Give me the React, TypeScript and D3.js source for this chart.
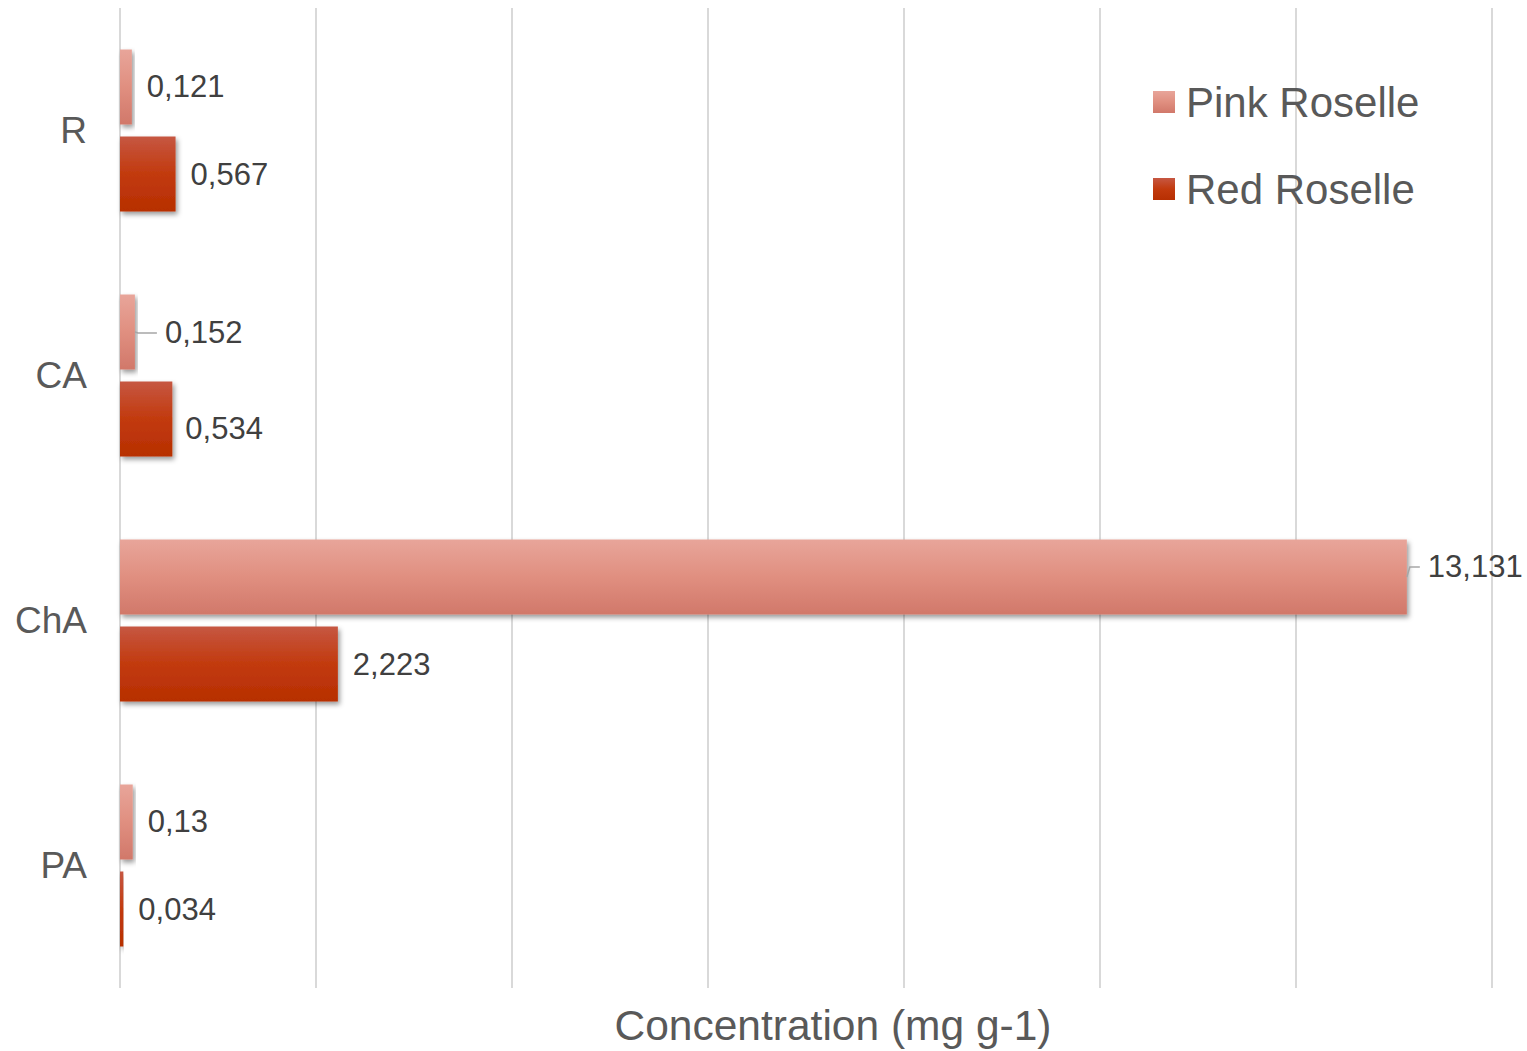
import React from "react";
import * as d3 from "d3";

// Compounds (categories) and concentrations per roselle variety
const categories = ["R", "CA", "ChA", "PA"];
const seriesNames = ["Pink Roselle", "Red Roselle"];
const pinkValues = [0.121, 0.152, 13.131, 0.13];
const redValues = [0.567, 0.534, 2.223, 0.034];
const pinkLabels = ["0,121", "0,152", "13,131", "0,13"];
const redLabels = ["0,567", "0,534", "2,223", "0,034"];
const xTicks = [0, 2, 4, 6, 8, 10, 12, 14];
const axisTitle = "Concentration (mg g-1)";

// Manual nudges for a few data labels (dx, dy, leader line)
const labelNudges: Record<string, { dx: number; dy: number; leader?: boolean }> = {
  "Pink Roselle|CA": { dx: 30, dy: 1, leader: true },
  "Red Roselle|CA": { dx: 13, dy: 9 },
  "Pink Roselle|ChA": { dx: 21, dy: -10, leader: true },
};

const W = 1527;
const H = 1051;
const FONT = "'Liberation Sans', Arial, Helvetica, sans-serif";

export default function App() {
  const x = d3.scaleLinear().domain([0, 14]).range([120, 1492]);
  const y = d3.scaleBand<string>().domain(categories).range([8, 988]).padding(0);
  const inner = d3
    .scaleBand<string>()
    .domain(seriesNames)
    .range([0, y.bandwidth()])
    .paddingInner(0.138)
    .paddingOuter(0.477);

  const seriesData = [
    { name: seriesNames[0], values: pinkValues, labels: pinkLabels, grad: "url(#gPink)" },
    { name: seriesNames[1], values: redValues, labels: redLabels, grad: "url(#gRed)" },
  ];

  return (
    <svg
      width={W}
      height={H}
      style={{ position: "absolute", left: 0, top: 0, background: "#fff" }}
      fontFamily={FONT}
    >
      <defs>
        <linearGradient id="gPink" x1="0" y1="0" x2="0" y2="1">
          <stop offset="0" stopColor="#e8a59a" />
          <stop offset="0.5" stopColor="#e08f80" />
          <stop offset="1" stopColor="#d1786a" />
        </linearGradient>
        <linearGradient id="gRed" x1="0" y1="0" x2="0" y2="1">
          <stop offset="0" stopColor="#c65742" />
          <stop offset="0.5" stopColor="#c23a0e" />
          <stop offset="1" stopColor="#b72f02" />
        </linearGradient>
        <filter id="shadow" x="-10%" y="-20%" width="130%" height="160%">
          <feDropShadow dx="2" dy="3" stdDeviation="2.5" floodColor="#000" floodOpacity="0.4" />
        </filter>
      </defs>

      {/* vertical gridlines */}
      {xTicks.map((t) => (
        <line
          key={t}
          x1={x(t)}
          x2={x(t)}
          y1={8}
          y2={988}
          stroke="#d9d9d9"
          strokeWidth={2}
        />
      ))}

      {/* category labels */}
      {categories.map((c) => (
        <text
          key={c}
          x={87}
          y={(y(c) ?? 0) + y.bandwidth() / 2}
          textAnchor="end"
          dominantBaseline="central"
          fontSize={37}
          fill="#595959"
        >
          {c}
        </text>
      ))}

      {/* bars */}
      {seriesData.map((s) =>
        categories.map((c, i) => {
          const y0 = (y(c) ?? 0) + (inner(s.name) ?? 0);
          const w = x(s.values[i]) - x(0);
          return (
            <rect
              key={s.name + c}
              x={x(0)}
              y={y0}
              width={w}
              height={inner.bandwidth()}
              fill={s.grad}
              filter="url(#shadow)"
            />
          );
        })
      )}

      {/* data labels */}
      {seriesData.map((s) =>
        categories.map((c, i) => {
          const nudge = labelNudges[s.name + "|" + c] ?? { dx: 15, dy: 0 };
          const barEnd = x(s.values[i]);
          const cy = (y(c) ?? 0) + (inner(s.name) ?? 0) + inner.bandwidth() / 2;
          const lx = barEnd + nudge.dx;
          const ly = cy + nudge.dy;
          return (
            <g key={"l" + s.name + c}>
              {nudge.leader && (
                <polyline
                  points={`${barEnd},${cy} ${barEnd + 3},${ly} ${lx - 8},${ly}`}
                  fill="none"
                  stroke="#a6a6a6"
                  strokeWidth={1.5}
                />
              )}
              <text
                x={lx}
                y={ly}
                dominantBaseline="central"
                fontSize={31}
                fill="#404040"
              >
                {s.labels[i]}
              </text>
            </g>
          );
        })
      )}

      {/* legend */}
      {seriesData.map((s, i) => (
        <g key={"lg" + s.name} transform={`translate(1153, ${91 + i * 87})`}>
          <rect x={0} y={0} width={22} height={22} fill={s.grad} />
          <text x={33} y={26} fontSize={42} fill="#595959">
            {s.name}
          </text>
        </g>
      ))}

      {/* axis title */}
      <text x={833} y={1040} textAnchor="middle" fontSize={42.5} fill="#595959">
        {axisTitle}
      </text>
    </svg>
  );
}
